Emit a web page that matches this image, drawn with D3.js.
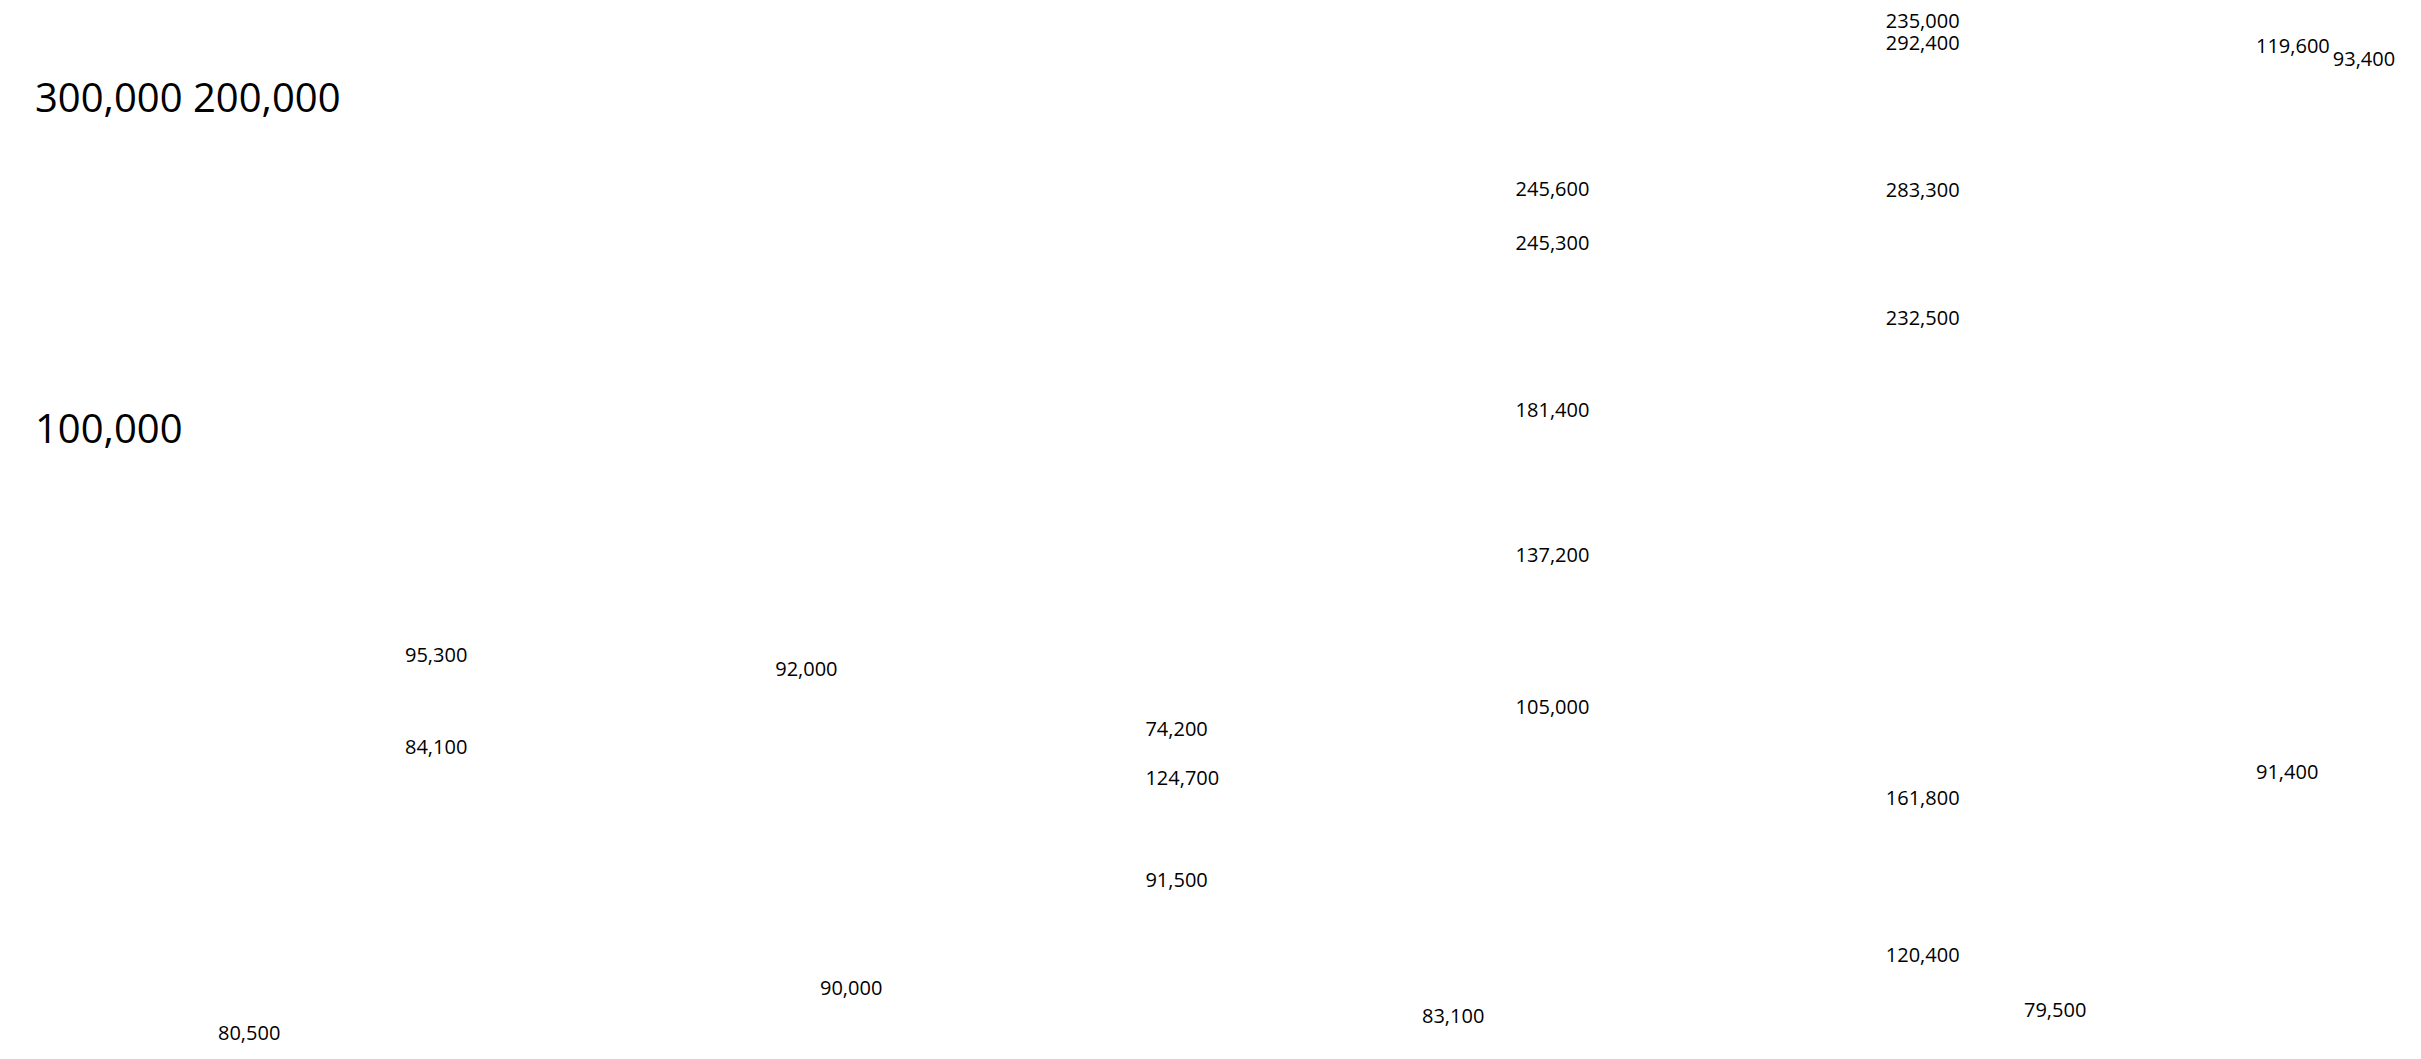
<!DOCTYPE html>
<html>
<head>
<meta charset="utf-8">
<script src="https://cdn.jsdelivr.net/npm/d3@7"></script>
<style>
    html, body { margin: 0; padding: 0; background: #fff; overflow: hidden; }
    #wrap { position: relative; width: 2421px; height: 1059px; }
    #chart { position: absolute; left: 0; top: 0; }
    #yticks {
        position: absolute; left: 35px; top: -69px; width: 360px;
        font-family: "Open Sans", sans-serif; font-size: 40px; line-height: 331px; color: #000;
    }
    .value-label { font-family: "Open Sans", sans-serif; font-size: 20px; fill: #000; }
</style>
</head>
<body>
<div id="wrap">
    <div id="yticks"></div>
    <div id="chart"></div>
</div>
<script>
// columns of labelled values (bars are not painted, only their labels)
const columns = ["c1", "c2", "c3", "c4", "c5", "c6"];
const columnValues = [
    [95300, 84100],
    [92000],
    [74200, 124700, 91500],
    [245600, 245300, 181400, 137200, 105000],
    [235000, 292400, 283300, 232500, 161800, 120400],
    [119600, 93400, 91400]
];
// vertical level of each label, in % of chart height
const columnLevels = [
    [37.5, 28.8],
    [36.2],
    [30.5, 25.9, 16.2],
    [81.5, 76.4, 60.6, 46.9, 32.6],
    [97.4, 95.3, 81.4, 69.3, 24.0, 9.2],
    [95.0, 93.8, 26.4]
];
// second series along the bottom
const lineKeys = ["p1", "p2", "p3", "p4"];
const lineValues = [80500, 90000, 83100, 79500];
const lineLevels = [1.8, 6.0, 3.4, 4.0];
// y tick labels
const yTicks = [300000, 200000, 100000];

const W = 2421, H = 1059;
const fmt = d3.format(",");

// tick labels flow as plain text
d3.select("#yticks").selectAll("span")
    .data(yTicks)
    .join("span")
    .text((d, i) => fmt(d) + (i < yTicks.length - 1 ? " " : ""));

const svg = d3.select("#chart").append("svg")
    .attr("width", W)
    .attr("height", H);

const y = d3.scaleLinear().domain([0, 100]).range([H, 0]);
const x = d3.scalePoint().domain(columns).range([405, 2256]);
const xLine = d3.scalePoint().domain(lineKeys).range([218, 2024]);

const labels = columns.flatMap((c, i) =>
    columnValues[i].map((v, j) => ({ col: c, value: v, level: columnLevels[i][j] })));

const groups = svg.selectAll(".col")
    .data(columns)
    .join("g")
    .attr("class", "col")
    .attr("transform", d => `translate(${x(d)},0)`);

groups.each(function(c) {
    const g = d3.select(this);
    let prev = null;
    labels.filter(d => d.col === c).forEach(d => {
        const t = g.append("text")
            .attr("class", "value-label")
            .attr("y", y(d.level))
            .text(fmt(d.value));
        let dx = 0;
        // push a label to the right when it would sit on top of the previous one
        if (prev && Math.abs(y(d.level) - y(prev.level)) < 16) {
            dx = prev.dx + prev.width + 3;
        }
        t.attr("x", dx);
        prev = { level: d.level, dx: dx, width: t.node().getComputedTextLength() };
    });
});

svg.selectAll(".line-label")
    .data(lineKeys)
    .join("text")
    .attr("class", "value-label line-label")
    .attr("x", d => xLine(d))
    .attr("y", (d, i) => y(lineLevels[i]))
    .text((d, i) => fmt(lineValues[i]));
</script>
</body>
</html>
